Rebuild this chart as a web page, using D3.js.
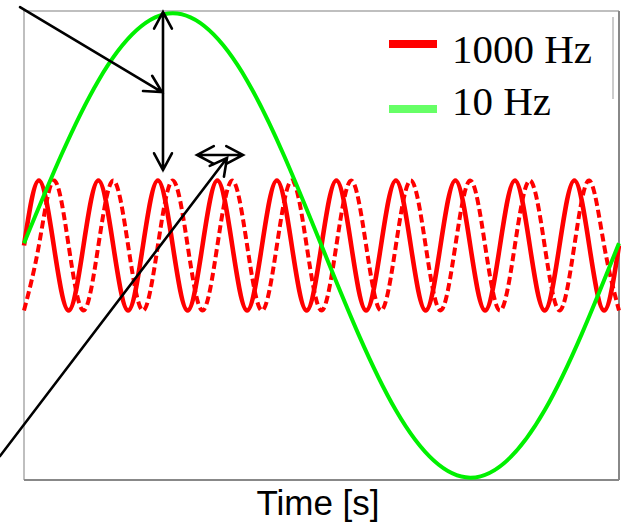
<!DOCTYPE html>
<html>
<head>
<meta charset="utf-8">
<script src="https://cdn.jsdelivr.net/npm/d3@7"></script>
<style>
  html, body { margin: 0; padding: 0; background: #fff; }
  svg { display: block; }
</style>
</head>
<body>
<script>
// Time axis in milliseconds
const timeDomain = [0, 100];

// 10 Hz reference wave (one cycle across the window)
const greenTime  = [0, 12.5, 25, 37.5, 50, 62.5, 75, 87.5, 100];
const greenValue = [0.01, 0.71, 1, 0.71, 0, -0.71, -1, -0.71, 0.01];

// Fast wave: sample times at quarter-cycle points
const redTime = [0, 2.5, 5, 7.5, 10, 12.5, 15, 17.5, 20, 22.5, 25, 27.5, 30, 32.5, 35, 37.5,
  40, 42.5, 45, 47.5, 50, 52.5, 55, 57.5, 60, 62.5, 65, 67.5, 70, 72.5, 75, 77.5,
  80, 82.5, 85, 87.5, 90, 92.5, 95, 97.5, 100];
// Solid trace
const redSolid = [0, 0.28, 0, -0.28, 0, 0.28, 0, -0.28, 0, 0.28, 0, -0.28, 0, 0.28, 0, -0.28,
  0, 0.28, 0, -0.28, 0, 0.28, 0, -0.28, 0, 0.28, 0, -0.28, 0, 0.28, 0, -0.28,
  0, 0.28, 0, -0.28, 0, 0.28, 0, -0.28, 0];
// Dashed trace (quarter-cycle lag)
const redDashed = [-0.28, 0, 0.28, 0, -0.28, 0, 0.28, 0, -0.28, 0, 0.28, 0, -0.28, 0, 0.28, 0,
  -0.28, 0, 0.28, 0, -0.28, 0, 0.28, 0, -0.28, 0, 0.28, 0, -0.28, 0, 0.28, 0,
  -0.28, 0, 0.28, 0, -0.28, 0, 0.28, 0, -0.28];

// Legend entries
const legendLabels = ["1000 Hz", "10 Hz"];
const legendColors = ["#ff0000", "#66ff66"];

// Annotation arrows in data units
const arrowStartT = [-0.67, 23.36, 29.08, -4.03];
const arrowStartV = [1.027, 1.006, 0.390, -0.907];
const arrowEndT   = [23.19, 23.36, 36.81, 34.12];
const arrowEndV   = [0.661, 0.325, 0.390, 0.377];
const arrowHeadStart = [false, true, true, false];
const arrowHeadEnd   = [true, true, true, true];

const xLabel = "Time [s]";

const W = 621, H = 524;
const plot = { left: 24, right: 619, top: 11, bottom: 480 };

const svg = d3.select("body").append("svg")
  .attr("width", W).attr("height", H);

const x = d3.scaleLinear().domain(timeDomain).range([plot.left, plot.right]);
const y = d3.scaleLinear().domain([-1.01, 1.01]).range([plot.bottom, plot.top]);

// Frame
const frame = svg.append("g");
frame.append("line").attr("x1", plot.left - 1).attr("x2", plot.right)
  .attr("y1", plot.top).attr("y2", plot.top)
  .attr("stroke", "#aaaaaa").attr("stroke-width", 1.5);
frame.append("line").attr("x1", plot.left).attr("x2", plot.left)
  .attr("y1", plot.top).attr("y2", plot.bottom)
  .attr("stroke", "#aaaaaa").attr("stroke-width", 1.5);
frame.append("line").attr("x1", plot.left).attr("x2", plot.right)
  .attr("y1", plot.bottom).attr("y2", plot.bottom)
  .attr("stroke", "#888888").attr("stroke-width", 2);
frame.append("line").attr("x1", plot.right).attr("x2", plot.right)
  .attr("y1", plot.top).attr("y2", plot.bottom)
  .attr("stroke", "#888888").attr("stroke-width", 2);

const line = d3.line()
  .x(d => x(d[0]))
  .y(d => y(d[1]))
  .curve(d3.curveNatural);

const zip = (ts, vs) => ts.map((t, i) => [t, vs[i]]);

// Fast wave traces
svg.append("path")
  .attr("d", line(zip(redTime, redDashed)))
  .attr("fill", "none").attr("stroke", "#ff0000")
  .attr("stroke-width", 4).attr("stroke-dasharray", "8,4");
svg.append("path")
  .attr("d", line(zip(redTime, redSolid)))
  .attr("fill", "none").attr("stroke", "#ff0000")
  .attr("stroke-width", 4.6).attr("stroke-linejoin", "round");

// Slow wave
svg.append("path")
  .attr("d", line(zip(greenTime, greenValue)))
  .attr("fill", "none").attr("stroke", "#00f000")
  .attr("stroke-width", 4);

// Legend
const legend = svg.append("g");
legend.append("line").attr("x1", 613).attr("x2", 613).attr("y1", 17).attr("y2", 99)
  .attr("stroke", "#bbbbbb").attr("stroke-width", 1.5);
legendLabels.forEach((lab, i) => {
  const cy = 44 + i * 65;
  legend.append("line")
    .attr("x1", 389).attr("x2", 437).attr("y1", cy).attr("y2", cy)
    .attr("stroke", legendColors[i]).attr("stroke-width", 8);
  legend.append("text")
    .attr("x", 452).attr("y", 63 + i * 52)
    .attr("font-family", "'Liberation Serif', 'Times New Roman', serif")
    .attr("font-size", 41).attr("fill", "#000")
    .text(lab);
});

// Annotation arrows
const arrows = svg.append("g")
  .attr("stroke", "#000").attr("stroke-width", 2.6)
  .attr("stroke-linecap", "round").attr("fill", "none");

function head(tipX, tipY, fromX, fromY) {
  const a = Math.atan2(fromY - tipY, fromX - tipX);
  const len = 19, spread = 28 * Math.PI / 180;
  const p1 = [tipX + len * Math.cos(a + spread), tipY + len * Math.sin(a + spread)];
  const p2 = [tipX + len * Math.cos(a - spread), tipY + len * Math.sin(a - spread)];
  return `M${p1[0]},${p1[1]}L${tipX},${tipY}L${p2[0]},${p2[1]}`;
}

arrowStartT.forEach((t0, i) => {
  const x0 = x(t0), y0 = y(arrowStartV[i]);
  const x1 = x(arrowEndT[i]), y1 = y(arrowEndV[i]);
  let d = `M${x0},${y0}L${x1},${y1}`;
  if (arrowHeadEnd[i]) d += head(x1, y1, x0, y0);
  if (arrowHeadStart[i]) d += head(x0, y0, x1, y1);
  arrows.append("path").attr("d", d);
});

// Axis title
svg.append("text")
  .attr("x", 318).attr("y", 515)
  .attr("text-anchor", "middle")
  .attr("font-family", "'Liberation Sans', Arial, sans-serif")
  .attr("font-size", 35).attr("fill", "#000")
  .text(xLabel);
</script>
</body>
</html>
